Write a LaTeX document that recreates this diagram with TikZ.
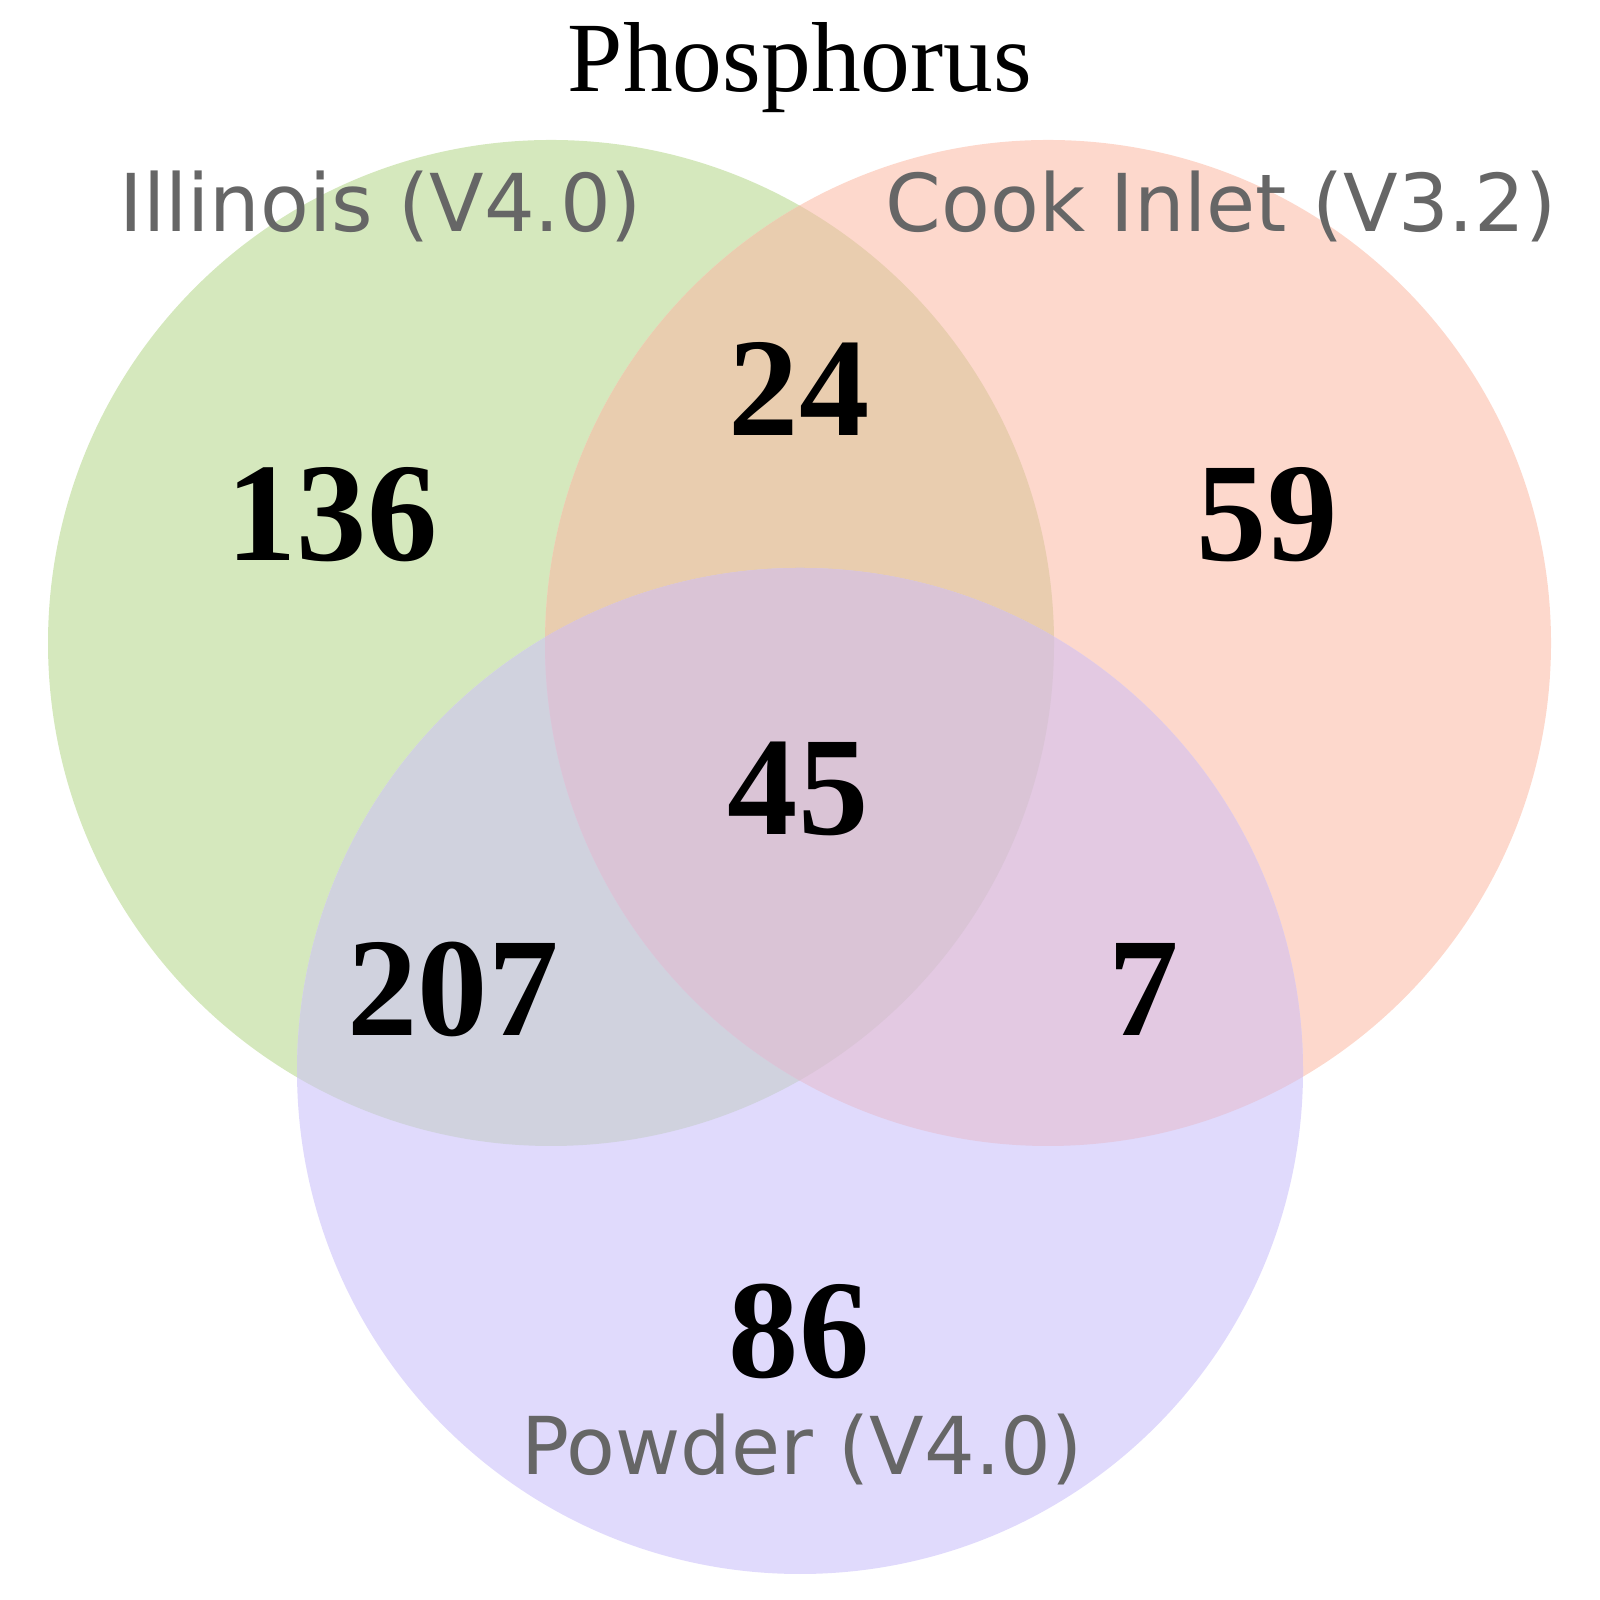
\documentclass[tikz,border=0pt]{standalone}
\usepackage{fontspec}
\setmainfont{Liberation Serif}
\newfontfamily\labelfont{DejaVu Sans}
\usepackage{tikz}
\usetikzlibrary{positioning}

\definecolor{onlyA}{RGB}{213,232,189}
\definecolor{onlyB}{RGB}{253,216,204}
\definecolor{onlyC}{RGB}{224,218,252}
\definecolor{partAB}{RGB}{233,205,175}
\definecolor{partAC}{RGB}{208,210,222}
\definecolor{partBC}{RGB}{227,201,226}
\definecolor{partABC}{RGB}{218,196,214}
\definecolor{setgray}{RGB}{102,102,102}

\begin{document}
\begin{tikzpicture}[
  num/.style={anchor=base, font=\fontsize{40}{44}\selectfont\bfseries, inner sep=0pt},
  setlab/.style={anchor=base, font=\labelfont\fontsize{22.7}{26}\selectfont, text=setgray, inner sep=0pt},
  ttl/.style={anchor=base, font=\fontsize{28.3}{32}\selectfont, inner sep=0pt}
]
\useasboundingbox (0,0) rectangle (16,16);
\def\rad{5.03}
\coordinate (ca) at (5.51,9.57);
\coordinate (cb) at (10.48,9.57);
\coordinate (cc) at (8.00,5.29);

% single sets
\fill[onlyA] (ca) circle (\rad);
\fill[onlyB] (cb) circle (\rad);
\fill[onlyC] (cc) circle (\rad);
% pairwise overlaps
\begin{scope}
  \clip (ca) circle (\rad);
  \fill[partAB] (cb) circle (\rad);
  \fill[partAC] (cc) circle (\rad);
\end{scope}
\begin{scope}
  \clip (cb) circle (\rad);
  \fill[partBC] (cc) circle (\rad);
\end{scope}
% all three
\begin{scope}
  \clip (ca) circle (\rad);
  \clip (cb) circle (\rad);
  \fill[partABC] (cc) circle (\rad);
\end{scope}

\node[ttl] (title) at (8.00,15.08) {Phosphorus};

\node[setlab] (illinois) at (3.81,13.68) {Illinois (V4.0)};
\node[setlab] (cook) at (12.21,13.68) {Cook Inlet (V3.2)};
\node[setlab] (powder) at (8.02,1.25) {Powder (V4.0)};

\node[num] (nA) at (3.32,10.39) {136};
\node[num] (nAB) at (7.99,11.64) {24};
\node[num] (nB) at (12.67,10.39) {59};
\node[num] (nABC) at (7.98,7.65) {45};
\node[num] (nAC) at (4.53,5.64) {207};
\node[num] (nBC) at (11.44,5.64) {7};
\node[num] (nC) at (7.99,2.22) {86};
\end{tikzpicture}
\end{document}
